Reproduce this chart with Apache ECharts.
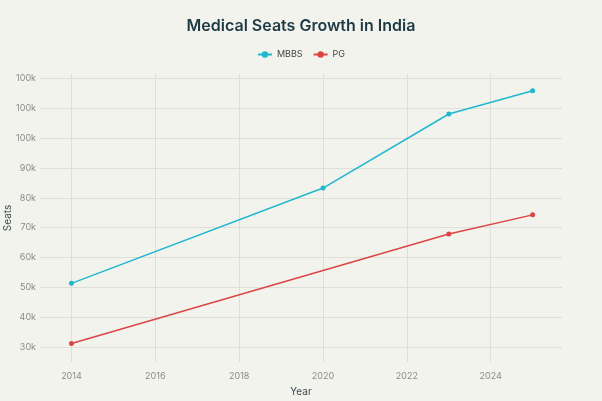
<!DOCTYPE html>
<html>
<head>
<meta charset="utf-8">
<script src="https://cdn.jsdelivr.net/npm/echarts@6/dist/echarts.min.js"></script>
<style>
  html, body { margin: 0; padding: 0; background: #f3f3ee; }
  #chart { width: 602px; height: 401px; }
</style>
</head>
<body>
<div id="chart"></div>
<script>
var mbbsYears = [2014, 2020, 2023, 2025];
var mbbsSeats = [51350, 83280, 108100, 115900];
var pgYears = [2014, 2023, 2025];
var pgSeats = [31200, 67900, 74300];
var yTickValues = [30000, 40000, 50000, 60000, 70000, 80000, 90000, 100000, 110000, 120000];
var yTickLabels = ['30k', '40k', '50k', '60k', '70k', '80k', '90k', '100k', '100k', '100k'];

function pairs(xs, ys) {
  return xs.map(function(x, i) { return [x, ys[i]]; });
}

var chart = echarts.init(document.getElementById('chart'));
var font = 'Inter, "Liberation Sans", sans-serif';

chart.setOption({
  backgroundColor: '#f3f3ee',
  textStyle: { fontFamily: font },
  title: {
    text: 'Medical Seats Growth in India',
    left: 'center',
    top: 13,
    textStyle: { fontSize: 16, fontWeight: 600, color: '#1d3a44', fontFamily: font }
  },
  legend: {
    top: 45,
    left: 'center',
    itemWidth: 14,
    itemHeight: 8,
    itemGap: 10,
    textStyle: { fontSize: 9, color: '#444' },
    data: ['MBBS', 'PG']
  },
  grid: { left: 40, right: 40, top: 74, bottom: 39, containLabel: false, outerBoundsMode: 'none' },
  xAxis: {
    type: 'value',
    min: 2013.25,
    max: 2025.7,
    minInterval: 2,
    maxInterval: 2,
    name: 'Year',
    nameLocation: 'middle',
    nameGap: 25,
    nameMoveOverlap: false,
    nameTextStyle: { fontSize: 10, color: '#3c4a50' },
    axisLine: { show: false },
    axisTick: { show: false },
    axisLabel: {
      showMinLabel: false, showMaxLabel: false, fontSize: 9, color: '#8a8a8a', margin: 10,
      formatter: function(v) { return String(v); }
    },
    splitLine: { show: true, showMinLine: false, showMaxLine: false, lineStyle: { color: '#dedfd9', width: 1 } }
  },
  yAxis: {
    type: 'value',
    min: 25000,
    max: 121500,
    minInterval: 10000,
    maxInterval: 10000,
    name: 'Seats',
    nameLocation: 'middle',
    nameGap: 27,
    nameMoveOverlap: false,
    nameTextStyle: { fontSize: 10, color: '#3c4a50' },
    axisLine: { show: false },
    axisTick: { show: false },
    axisLabel: {
      showMinLabel: false,
      showMaxLabel: false,
      fontSize: 9,
      color: '#8a8a8a',
      margin: 4,
      formatter: function(v) {
        var i = yTickValues.indexOf(v);
        return i >= 0 ? yTickLabels[i] : '';
      }
    },
    splitLine: { show: true, showMinLine: false, showMaxLine: false, lineStyle: { color: '#dedfd9', width: 1 } }
  },
  series: [{
    name: 'MBBS',
    type: 'line',
    data: pairs(mbbsYears, mbbsSeats),
    symbol: 'circle',
    symbolSize: 5,
    color: '#1fb8cd',
    lineStyle: { width: 1.5 },
    emphasis: { disabled: true }
  }, {
    name: 'PG',
    type: 'line',
    data: pairs(pgYears, pgSeats),
    symbol: 'circle',
    symbolSize: 5,
    color: '#db4545',
    lineStyle: { width: 1.5 },
    emphasis: { disabled: true }
  }]
});
</script>
</body>
</html>
